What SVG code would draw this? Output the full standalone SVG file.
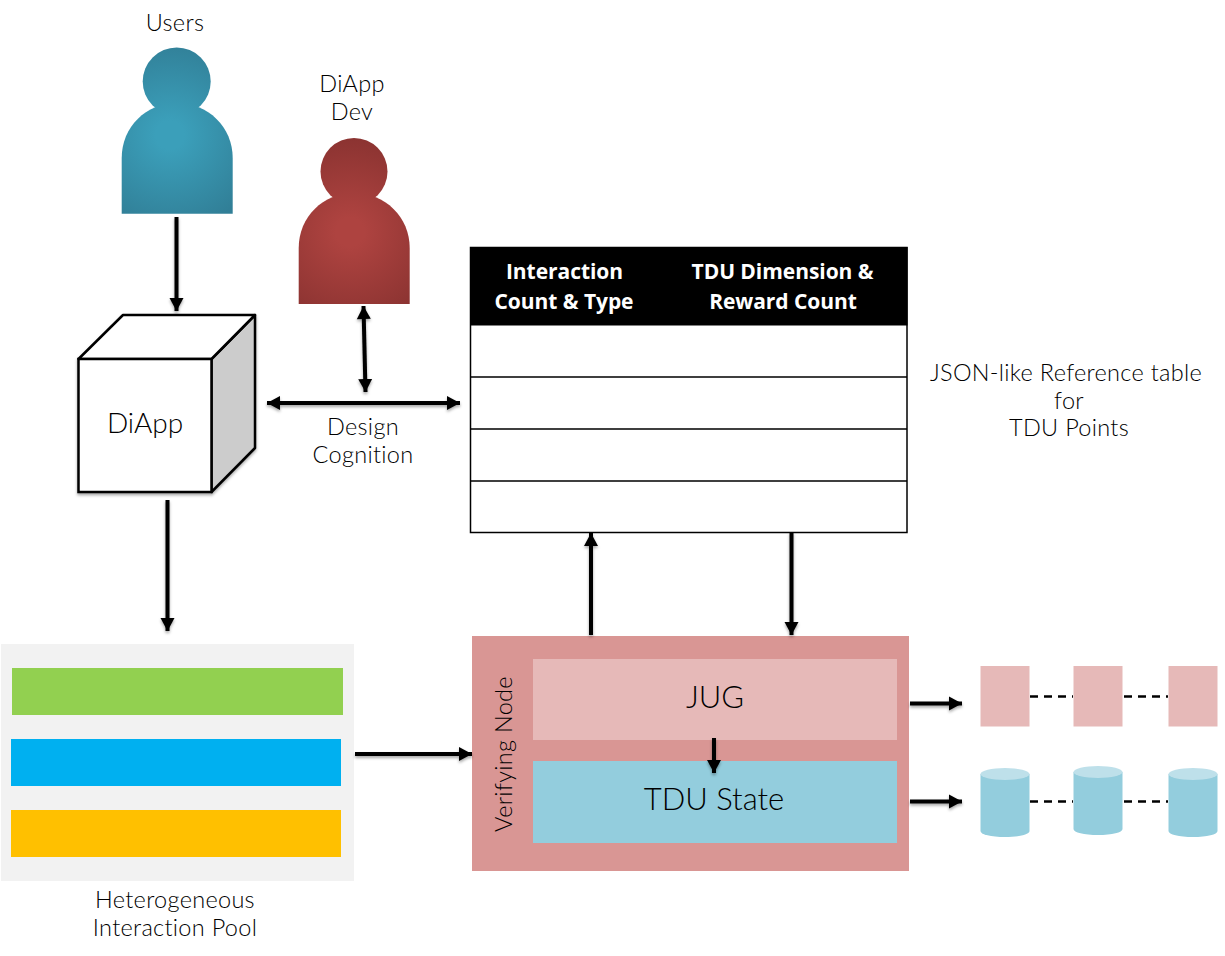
<svg xmlns="http://www.w3.org/2000/svg" width="1225" height="956" viewBox="0 0 1225 956">
<style>
text{font-family:"Lato","Noto Sans",sans-serif;font-weight:300;fill:#000;text-anchor:middle}
.t{font-size:23.500px;letter-spacing:.3px}
.th{font-family:"Open Sans","Noto Sans",sans-serif;font-size:21px;font-weight:700;fill:#fff;letter-spacing:-.05px}
.a{fill:none;stroke:#000;stroke-width:4;marker-end:url(#h)}
.b{fill:none;stroke:#000;stroke-width:4;marker-start:url(#hs);marker-end:url(#h)}
.d{stroke:#000;stroke-width:2.500;stroke-dasharray:8 6;fill:none}
.row{stroke:#000;stroke-width:1.500;fill:none}
.sq{fill:#e6b9b8}
.cy{fill:#93cddd}
.ct{fill:#bee0ea}
</style>
<defs>
<marker id="h" markerUnits="userSpaceOnUse" markerWidth="15" markerHeight="16" refX="13" refY="8" orient="auto"><path d="M0 1L13 8L0 15Z" fill="#000"/></marker>
<marker id="hs" markerUnits="userSpaceOnUse" markerWidth="15" markerHeight="16" refX="0" refY="8" orient="auto"><path d="M13 1L0 8L13 15Z" fill="#000"/></marker>
<radialGradient id="blue" gradientUnits="userSpaceOnUse" cx="170" cy="135" r="95"><stop offset="0.150" stop-color="#3b9fba"/><stop offset="1" stop-color="#317f97"/></radialGradient>
<radialGradient id="red" gradientUnits="userSpaceOnUse" cx="350" cy="232" r="95"><stop offset="0.150" stop-color="#ae4340"/><stop offset="1" stop-color="#8b3331"/></radialGradient>
<filter id="sh" x="-30%" y="-30%" width="160%" height="160%"><feDropShadow dx="0" dy="2" stdDeviation="1.500" flood-color="#000" flood-opacity=".35"/></filter>
</defs>

<g id="users">
<text class="t" x="175" y="31">Users</text>
<circle cx="176.700" cy="81.500" r="34" fill="url(#blue)"/>
<path d="M121.700 213.700V158C121.700 127 146 103 177 103S232.700 127 232.700 158V213.700Z" fill="url(#blue)"/>
</g>
<g id="dev">
<text class="t" x="352" y="92">DiApp</text>
<text class="t" x="352" y="120">Dev</text>
<circle cx="354" cy="171.500" r="33.500" fill="url(#red)"/>
<path d="M298.700 304V248C298.700 217 323 193 354 193S409.700 217 409.700 248V304Z" fill="url(#red)"/>
</g>
<g id="diapp" filter="url(#sh)">
<path d="M211.500 359L255 315V448L211.500 492Z" fill="#ccc" stroke="#000" stroke-width="2.500" stroke-linejoin="round"/>
<path d="M78.500 359L123 315H255L211.500 359Z" fill="#fff" stroke="#000" stroke-width="2.500" stroke-linejoin="round"/>
<rect x="78.500" y="359" width="133" height="133" fill="#fff" stroke="#000" stroke-width="2.500"/>
</g>
<text x="145" y="433" style="font-size:28px">DiApp</text>
<text class="t" x="363" y="435">Design</text>
<text class="t" x="363" y="463">Cognition</text>

<g id="table">
<rect x="470.500" y="247.500" width="436.500" height="285" fill="#fff" stroke="#000" stroke-width="1.500"/>
<rect x="470" y="247" width="437.500" height="78.500" fill="#000"/>
<path class="row" d="M470 377H907M470 429H907M470 481H907"/>
<text class="th" x="564.500" y="279">Interaction</text>
<text class="th" x="564" y="309">Count &amp; Type</text>
<text class="th" x="782.500" y="279">TDU Dimension &amp;</text>
<text class="th" x="783" y="309">Reward Count</text>
</g>
<g id="table-label">
<text class="t" x="1066" y="381">JSON-like Reference table</text>
<text class="t" x="1069" y="409">for</text>
<text class="t" x="1069" y="436">TDU Points</text>
</g>

<g id="pool">
<rect x="1" y="644" width="353" height="237" fill="#f2f2f2"/>
<rect x="12" y="668" width="331" height="47" fill="#92d050"/>
<rect x="11" y="739" width="330" height="47" fill="#00b0f0"/>
<rect x="11" y="810" width="330" height="47" fill="#ffc000"/>
<text class="t" x="175" y="908">Heterogeneous</text>
<text class="t" x="175" y="936">Interaction Pool</text>
</g>

<g id="verifying-node">
<rect x="472" y="636" width="437" height="235" fill="#d99694"/>
<text class="t" transform="translate(512 754) rotate(-90)">Verifying Node</text>
</g>
<g id="jug">
<rect x="533" y="659" width="364" height="81" fill="#e6b9b8"/>
<text x="715" y="708" style="font-size:31px">JUG</text>
</g>
<g id="tdu-state">
<rect x="533" y="761" width="364" height="82" fill="#93cddd"/>
<text x="714" y="810" style="font-size:31px">TDU State</text>
</g>

<g id="blocks">
<rect class="sq" x="980.500" y="666" width="49" height="60.500"/>
<rect class="sq" x="1073.500" y="666" width="49" height="60.500"/>
<rect class="sq" x="1168.500" y="666" width="49" height="60.500"/>
</g>
<g id="stores">
<path class="cy" d="M980.500 774V831C980.500 834.500 991 837 1005 837S1029.500 834.500 1029.500 831V774Z"/>
<ellipse class="ct" cx="1005" cy="774" rx="24.500" ry="6"/>
<path class="cy" d="M1073.500 772V829C1073.500 832.500 1084 835 1098 835S1122.500 832.500 1122.500 829V772Z"/>
<ellipse class="ct" cx="1098" cy="772" rx="24.500" ry="6"/>
<path class="cy" d="M1168.500 774V831C1168.500 834.500 1179 837 1193 837S1217.500 834.500 1217.500 831V774Z"/>
<ellipse class="ct" cx="1193" cy="774" rx="24.500" ry="6"/>
</g>

<g id="connectors" filter="url(#sh)">
<path class="a" d="M176.500 217V311"/>
<path class="a" d="M167.500 500V631"/>
<path class="b" d="M363.500 306L365.500 392"/>
<path class="b" d="M267 403H460"/>
<path class="a" d="M591 635V533"/>
<path class="a" d="M791.500 532V635"/>
<path class="a" d="M355 754H472"/>
<path class="a" d="M714 738V773"/>
<path class="a" d="M910 703.500H962"/>
<path class="a" d="M910 801.500H962"/>
</g>
<g id="dashes">
<path class="d" d="M1030 696.500H1073M1124 696.500H1168"/>
<path class="d" d="M1030 801.500H1073M1124 801.500H1168"/>
</g>
</svg>
